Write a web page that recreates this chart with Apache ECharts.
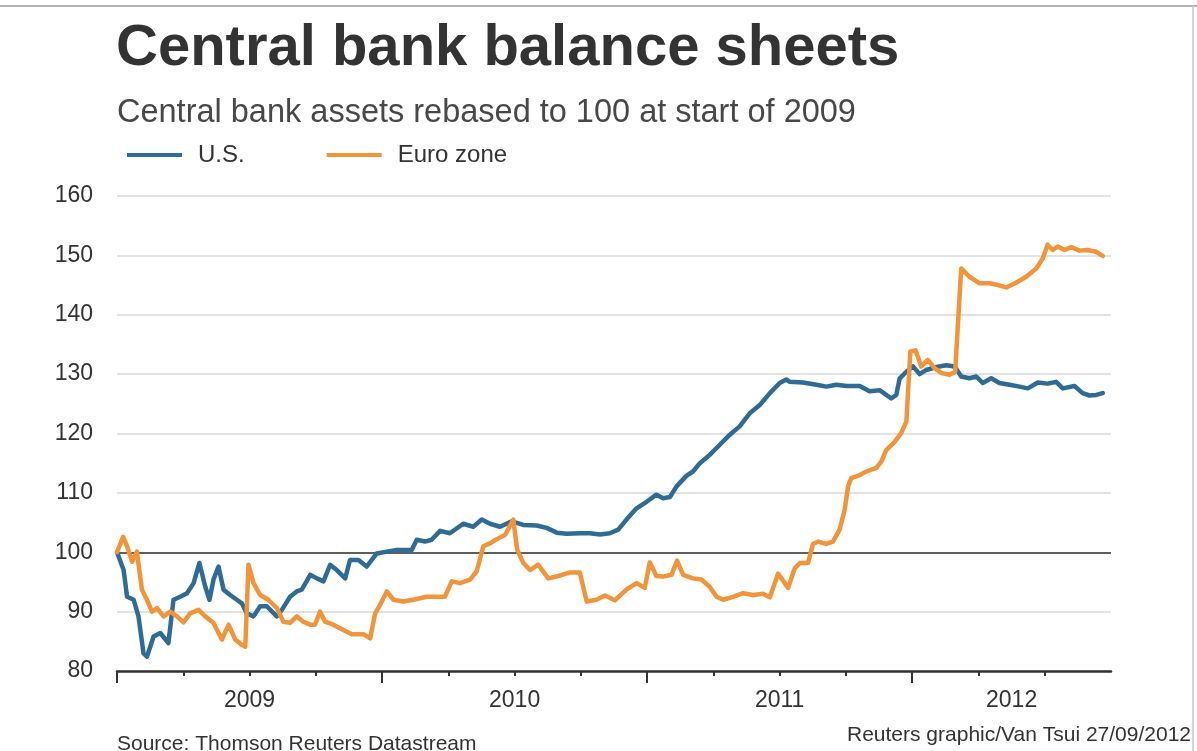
<!DOCTYPE html>
<html>
<head>
<meta charset="utf-8">
<script src="https://cdn.jsdelivr.net/npm/echarts@6/dist/echarts.min.js"></script>
<style>
  html, body { margin: 0; padding: 0; background: #fff; }
  #chart { width: 1197px; height: 751px; }
</style>
</head>
<body>
<div id="chart"></div>
<script>
// Central bank assets, rebased to 100 at start of 2009 (x = decimal year)
const usYears = [
  2009.000, 2009.025, 2009.038, 2009.063, 2009.081, 2009.100, 2009.113, 2009.138, 2009.163, 2009.194,
  2009.213, 2009.239, 2009.264, 2009.289, 2009.311, 2009.333, 2009.349, 2009.364, 2009.383, 2009.402,
  2009.427, 2009.452, 2009.471, 2009.490, 2009.515, 2009.540, 2009.565, 2009.603, 2009.622, 2009.653,
  2009.678, 2009.697, 2009.729, 2009.754, 2009.779, 2009.804, 2009.829, 2009.861, 2009.879, 2009.911,
  2009.942, 2009.980, 2010.018, 2010.055, 2010.112, 2010.131, 2010.162, 2010.187, 2010.219, 2010.256,
  2010.306, 2010.344, 2010.376, 2010.407, 2010.445, 2010.489, 2010.533, 2010.583, 2010.621, 2010.659,
  2010.696, 2010.746, 2010.784, 2010.822, 2010.859, 2010.891, 2010.922, 2010.960, 2010.998, 2011.035,
  2011.060, 2011.086, 2011.111, 2011.149, 2011.173, 2011.199, 2011.236, 2011.274, 2011.312, 2011.349,
  2011.387, 2011.425, 2011.463, 2011.500, 2011.525, 2011.538, 2011.588, 2011.639, 2011.676, 2011.714,
  2011.752, 2011.802, 2011.839, 2011.877, 2011.921, 2011.940, 2011.953, 2011.978, 2012.003, 2012.028,
  2012.053, 2012.091, 2012.129, 2012.160, 2012.185, 2012.216, 2012.242, 2012.266, 2012.298, 2012.329,
  2012.367, 2012.405, 2012.436, 2012.474, 2012.511, 2012.543, 2012.568, 2012.612, 2012.643, 2012.669,
  2012.694, 2012.719
];
const usValues = [
  100.0, 97.0, 92.5, 92.0, 89.2, 83.0, 82.4, 85.8, 86.4, 84.7,
  92.0, 92.5, 93.1, 94.8, 98.2, 94.2, 92.0, 95.4, 97.6, 93.7,
  92.8, 92.0, 91.4, 89.7, 89.2, 90.9, 90.9, 89.2, 90.3, 92.5,
  93.4, 93.7, 96.2, 95.6, 95.1, 97.9, 97.0, 95.6, 98.7, 98.7,
  97.6, 99.8, 100.1, 100.4, 100.4, 102.1, 101.8, 102.1, 103.6, 103.2,
  104.8, 104.3, 105.5, 104.8, 104.3, 105.2, 104.6, 104.5, 104.1, 103.3,
  103.1, 103.2, 103.2, 103.0, 103.2, 103.8, 105.5, 107.4, 108.5, 109.7,
  109.1, 109.3, 111.1, 112.9, 113.6, 115.0, 116.4, 118.1, 119.8, 121.2,
  123.4, 124.8, 126.8, 128.5, 129.1, 128.7, 128.6, 128.2, 127.9, 128.2,
  128.0, 128.0, 127.1, 127.3, 125.9, 126.5, 129.3, 130.4, 131.3, 130.0,
  130.7, 131.2, 131.5, 131.3, 129.6, 129.3, 129.6, 128.5, 129.3, 128.5,
  128.2, 127.9, 127.6, 128.6, 128.4, 128.7, 127.6, 128.0, 126.8, 126.4,
  126.5, 126.8
];

const euroYears = [
  2009.000, 2009.023, 2009.038, 2009.057, 2009.075, 2009.094, 2009.113, 2009.132, 2009.151, 2009.176,
  2009.201, 2009.226, 2009.251, 2009.276, 2009.308, 2009.333, 2009.364, 2009.396, 2009.421, 2009.446,
  2009.471, 2009.484, 2009.496, 2009.515, 2009.540, 2009.571, 2009.603, 2009.628, 2009.653, 2009.678,
  2009.703, 2009.729, 2009.747, 2009.766, 2009.785, 2009.816, 2009.854, 2009.886, 2009.930, 2009.955,
  2009.974, 2009.992, 2010.018, 2010.043, 2010.080, 2010.118, 2010.168, 2010.237, 2010.263, 2010.294,
  2010.332, 2010.357, 2010.382, 2010.407, 2010.432, 2010.464, 2010.495, 2010.510, 2010.533, 2010.558,
  2010.589, 2010.627, 2010.665, 2010.709, 2010.746, 2010.772, 2010.809, 2010.841, 2010.878, 2010.922,
  2010.960, 2010.991, 2011.010, 2011.035, 2011.060, 2011.092, 2011.113, 2011.136, 2011.173, 2011.205,
  2011.236, 2011.262, 2011.287, 2011.324, 2011.362, 2011.400, 2011.437, 2011.463, 2011.494, 2011.532,
  2011.557, 2011.576, 2011.607, 2011.626, 2011.645, 2011.676, 2011.701, 2011.726, 2011.745, 2011.758,
  2011.770, 2011.802, 2011.827, 2011.865, 2011.884, 2011.902, 2011.934, 2011.959, 2011.978, 2011.993,
  2012.013, 2012.034, 2012.059, 2012.084, 2012.110, 2012.141, 2012.162, 2012.185, 2012.216, 2012.254,
  2012.292, 2012.323, 2012.355, 2012.392, 2012.430, 2012.468, 2012.493, 2012.511, 2012.530, 2012.549,
  2012.575, 2012.600, 2012.631, 2012.662, 2012.694, 2012.719
];
const euroValues = [
  100.0, 102.6, 101.0, 98.4, 100.1, 93.7, 92.0, 90.0, 90.6, 89.2,
  90.0, 89.2, 88.2, 89.7, 90.3, 89.2, 88.1, 85.3, 87.8, 85.3,
  84.4, 84.1, 97.9, 94.8, 92.8, 92.0, 90.6, 88.3, 88.1, 89.2,
  88.3, 87.8, 87.8, 90.0, 88.3, 87.8, 86.9, 86.2, 86.2, 85.5,
  89.7, 91.1, 93.4, 92.0, 91.7, 92.0, 92.5, 92.5, 95.1, 94.8,
  95.4, 96.8, 101.0, 101.5, 102.2, 102.9, 105.5, 100.4, 98.2, 97.0,
  97.9, 95.6, 96.0, 96.6, 96.6, 91.7, 92.0, 92.7, 91.9, 93.7,
  94.8, 94.0, 98.3, 96.0, 95.9, 96.2, 98.6, 96.2, 95.6, 95.4,
  94.2, 92.5, 92.0, 92.5, 93.1, 92.8, 93.0, 92.4, 96.4, 94.0,
  97.3, 98.2, 98.2, 101.4, 101.8, 101.4, 101.8, 103.8, 107.1, 111.1,
  112.5, 113.0, 113.6, 114.2, 115.3, 117.2, 118.6, 120.1, 122.0, 133.8,
  134.0, 131.3, 132.4, 131.0, 130.2, 129.9, 130.4, 147.8, 146.4, 145.3,
  145.3, 145.0, 144.6, 145.4, 146.4, 147.8, 149.5, 151.8, 150.9, 151.5,
  150.9, 151.4, 150.8, 150.9, 150.6, 149.9
];

// Axis ticks and labels
const quarterTicks = [2009.25, 2009.5, 2009.75, 2010.25, 2010.5, 2010.75, 2011.25, 2011.5, 2011.75, 2012.25, 2012.5];
const yearTicks = [2009, 2010, 2011, 2012];
const yearLabelPositions = [2009.5, 2010.5, 2011.5, 2012.375];
const yearLabelTexts = ['2009', '2010', '2011', '2012'];

const FONT = "'Liberation Sans', Arial, sans-serif";
const TEXT = '#333333';
const US_COLOR = '#2e6b95';
const EURO_COLOR = '#f2943a';

const chart = echarts.init(document.getElementById('chart'), null, { renderer: 'canvas' });

const usData = usYears.map((x, i) => [x, usValues[i]]);
const euroData = euroYears.map((x, i) => [x, euroValues[i]]);

chart.setOption({
  backgroundColor: '#ffffff',
  animation: false,
  textStyle: { fontFamily: FONT },
  title: [
    {
      text: 'Central bank balance sheets',
      left: 116, top: 20, padding: 0,
      textStyle: { fontFamily: FONT, fontSize: 58, fontWeight: 'bold', color: '#333333' }
    },
    {
      text: 'Central bank assets rebased to 100 at start of 2009',
      left: 117, top: 97, padding: 0,
      textStyle: { fontFamily: FONT, fontSize: 32.5, fontWeight: 'normal', color: '#484848' }
    },
    {
      text: 'Source: Thomson Reuters Datastream',
      left: 117, top: 734, padding: 0,
      textStyle: { fontFamily: FONT, fontSize: 21, fontWeight: 'normal', color: TEXT }
    },
    {
      text: 'Reuters graphic/Van Tsui 27/09/2012',
      right: 6, top: 725, padding: 0,
      textStyle: { fontFamily: FONT, fontSize: 21, fontWeight: 'normal', color: TEXT }
    }
  ],
  legend: {
    left: 122, top: 138,
    icon: 'rect',
    itemWidth: 55, itemHeight: 4,
    itemGap: 82,
    textStyle: { fontFamily: FONT, fontSize: 24, color: TEXT, padding: [0, 0, 0, 11] },
    data: ['U.S.', 'Euro zone']
  },
  grid: { left: 117, right: 86, top: 196, bottom: 80, containLabel: false },
  xAxis: [
    {
      type: 'value', min: 2009, max: 2012.75, position: 'bottom',
      axisLine: { show: true, onZero: false, lineStyle: { color: '#333333', width: 2.5 } },
      axisTick: { show: true, inside: false, length: 5, customValues: quarterTicks, lineStyle: { color: '#333333', width: 2 } },
      axisLabel: {
        show: true, margin: 18, customValues: yearLabelPositions,
        fontFamily: FONT, fontSize: 23, color: TEXT,
        formatter: v => yearLabelTexts[yearLabelPositions.indexOf(v)] || ''
      },
      splitLine: { show: false }
    },
    {
      type: 'value', min: 2009, max: 2012.75, position: 'bottom', offset: 0,
      axisLine: { show: false, onZero: false },
      axisTick: { show: true, inside: false, length: 12, customValues: yearTicks, lineStyle: { color: '#333333', width: 2 } },
      axisLabel: { show: false },
      splitLine: { show: false }
    }
  ],
  yAxis: {
    type: 'value', min: 80, max: 160, interval: 10,
    axisLine: { show: false },
    axisTick: { show: false },
    axisLabel: { margin: 24, fontFamily: FONT, fontSize: 23, color: TEXT },
    splitLine: { show: true, lineStyle: { color: '#d9d9d9', width: 1.5 } }
  },
  series: [
    {
      name: 'U.S.', type: 'line', data: usData, xAxisIndex: 0,
      showSymbol: false, symbol: 'none', z: 3,
      lineStyle: { color: US_COLOR, width: 4.5, join: 'round', cap: 'round' },
      itemStyle: { color: US_COLOR },
      markLine: {
        silent: true, symbol: 'none', label: { show: false },
        lineStyle: { color: '#333333', width: 1.5, type: 'solid' },
        data: [{ yAxis: 100 }],
        z: 1
      }
    },
    {
      name: 'Euro zone', type: 'line', data: euroData, xAxisIndex: 0,
      showSymbol: false, symbol: 'none', z: 4,
      lineStyle: { color: EURO_COLOR, width: 4.5, join: 'round', cap: 'round' },
      itemStyle: { color: EURO_COLOR }
    }
  ],
  graphic: [
    { type: 'line', shape: { x1: 0, y1: 6, x2: 1197, y2: 6 }, style: { stroke: '#9a9a9a', lineWidth: 1.5 }, silent: true },
    { type: 'line', shape: { x1: 1193, y1: 6, x2: 1193, y2: 751 }, style: { stroke: '#c8c8c8', lineWidth: 1.5 }, silent: true }
  ]
});
</script>
</body>
</html>
